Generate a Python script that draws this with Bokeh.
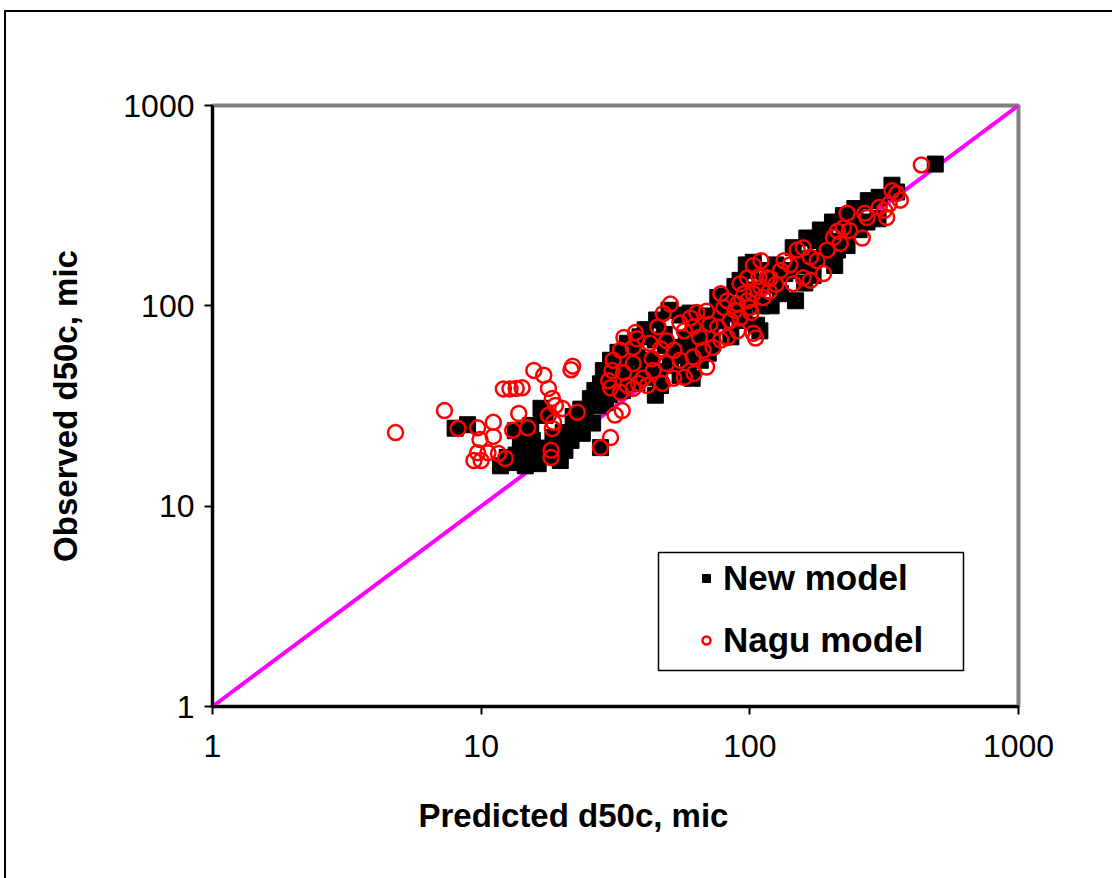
from bokeh.plotting import figure
from bokeh.models import (Legend, LegendItem, FixedTicker, PrintfTickFormatter,
                          BoxAnnotation, Title, InlineStyleSheet)
from bokeh.embed import file_html
from bokeh.resources import INLINE

# ---------------- data ----------------
new_pred = [8.0, 8.9,
            11.8, 13.1, 14.6, 16.3, 14.0, 15.5, 13.4, 15.3, 17.3, 16.7, 17.8, 18.9, 19.7, 21.6, 20.2,
            22.4, 23.8, 24.4, 25.5, 26.5, 27.8, 27.2, 28.5, 30.3, 32.3, 31.5, 34.2, 33.6, 27.8,
            13.5, 15.0, 16.5, 12.5, 14.0, 18.5, 20.5, 22.0, 23.5, 26.0, 29.0, 30.0, 31.0,
            40.8, 44.5, 42.8, 48.5, 50.7, 55.0, 59.0, 61.0, 65.4, 57.5, 46.5, 44.5, 38.0, 36.0, 40.0,
            42.0, 46.0, 52.0, 54.0, 58.0, 62.0, 66.0, 64.0, 48.0, 36.0, 38.0, 45.0, 50.0, 55.0,
            35.0, 39.0, 33.0, 37.0, 60.0, 63.0,
            71.0, 76.5, 81.6, 78.4, 88.0, 92.0, 96.0, 101.0, 103.0, 98.0, 106.0, 109.0, 114.0, 92.0,
            68.0, 72.0, 85.0, 95.0, 100.0, 105.0, 110.0, 88.0, 82.0, 76.0, 70.0,
            124.0, 141.0, 155.0, 168.0, 176.0, 190.0, 145.0, 163.0, 183.0, 203.0, 223.0, 246.0,
            276.0, 303.0, 338.0, 352.0, 300.0, 273.0, 243.0, 212.0, 230.0, 207.0, 172.0, 155.0,
            126.0, 119.0, 148.0, 130.0, 160.0, 190.0, 200.0, 225.0, 255.0, 120.0, 135.0,
            125.0, 118.0, 97.0,
            490.0]
new_obs = [24.5, 25.5,
           15.9, 16.5, 15.9, 16.3, 19.0, 21.3, 23.8, 25.3, 28.4, 30.8, 17.9, 19.6, 16.9, 21.3, 23.3,
           25.3, 23.1, 28.4, 34.4, 37.8, 40.8, 31.7, 47.5, 53.5, 58.6, 45.0, 50.5, 37.8, 19.6,
           18.0, 17.5, 19.5, 17.5, 21.5, 22.0, 19.0, 28.0, 30.5, 26.0, 33.0, 36.0, 40.0,
           76.0, 67.5, 53.5, 63.5, 50.5, 45.0, 46.4, 43.5, 53.5, 56.5, 40.0, 35.8, 41.0, 45.0, 48.0,
           44.0, 47.0, 58.0, 62.0, 68.0, 72.0, 62.0, 80.0, 72.0, 62.0, 55.0, 85.0, 95.0, 90.0,
           65.0, 70.0, 55.0, 58.0, 92.0, 85.0,
           75.0, 95.0, 112.0, 84.5, 100.0, 84.5, 119.0, 150.0, 165.0, 106.0, 80.0, 75.0, 127.0, 134.0,
           89.0, 65.0, 70.0, 95.0, 120.0, 105.0, 100.0, 125.0, 92.0, 110.0, 58.0,
           134.0, 150.0, 159.0, 172.0, 212.0, 232.0, 195.0, 218.0, 239.0, 262.0, 282.0, 306.0,
           335.0, 348.0, 400.0, 370.0, 272.0, 262.0, 258.0, 190.0, 200.0, 159.0, 142.0, 163.0,
           156.0, 131.0, 106.0, 115.0, 130.0, 175.0, 210.0, 230.0, 240.0, 100.0, 145.0,
           160.0, 150.0, 160.0,
           510.0]

nagu_pred = [4.8, 7.3, 8.2, 9.7, 11.1, 9.9, 11.1, 9.4, 10.0, 9.7, 10.6, 11.6, 12.3, 13.8, 13.1, 14.9,
             12.1, 12.8, 13.5, 14.2, 15.7, 17.1, 17.8, 21.9, 21.6, 18.4, 18.9, 17.8, 18.6, 18.4,
             20.1, 22.8, 18.2, 18.2, 27.8, 30.3, 31.5, 33.5, 33.0, 35.0,
             50.6, 47.6, 37.5, 38.0, 33.0, 31.0, 30.7, 29.8, 30.3, 33.9, 36.8, 43.3, 46.5, 49.0,
             55.0, 60.0, 57.0, 63.5, 69.0, 78.0, 82.5, 92.0, 98.0, 103.0, 110.0, 103.0, 105.0,
             69.0, 62.0, 57.0, 52.0, 47.2, 41.5, 38.5, 36.8, 40.0, 43.7, 49.0, 55.0, 61.5, 67.0,
             73.0, 78.0, 82.5, 65.0, 76.0, 84.5, 92.0, 71.0, 61.5, 80.0, 90.0, 98.0, 103.0, 110.0,
             116.0, 101.0, 90.0, 45.5, 52.2, 42.5, 34.0, 36.8,
             119.0, 130.0, 150.0, 158.0, 168.0, 178.0, 188.0, 194.0, 205.0, 212.0, 223.0, 235.0,
             217.0, 262.0, 268.0, 273.0, 303.0, 317.0, 330.0, 352.0, 363.0, 323.0, 338.0, 230.0,
             134.0, 141.0, 168.0, 158.0, 145.0, 108.0, 112.0, 118.0, 125.0, 95.0, 88.0, 100.0,
             435.0]
nagu_obs = [23.3, 30.0, 24.4, 24.6, 26.2, 21.5, 22.3, 16.9, 16.9, 18.5, 18.5, 18.3, 17.3, 29.0, 23.9, 24.6,
            38.5, 38.5, 38.7, 39.0, 47.6, 45.0, 38.7, 50.0, 48.0, 34.5, 31.8, 28.4, 26.2, 24.4,
            30.7, 29.4, 19.0, 17.5, 19.6, 22.0, 28.5, 30.0, 37.0, 40.0,
            102.0, 91.5, 73.5, 68.5, 60.0, 53.5, 47.5, 42.3, 39.0, 46.4, 51.5, 54.5, 61.0, 67.0,
            82.0, 87.0, 75.0, 92.5, 94.0, 115.0, 106.0, 129.0, 138.0, 159.0, 168.0, 73.0, 69.0,
            49.5, 46.0, 44.0, 43.5, 41.0, 40.0, 41.0, 38.7, 43.5, 47.5, 51.5, 53.5, 55.5, 60.0,
            62.0, 67.5, 69.5, 69.5, 78.5, 84.5, 87.0, 81.0, 78.5, 98.0, 102.0, 106.0, 115.0, 123.0,
            138.0, 92.5, 75.0, 78.5, 60.0, 65.0, 69.5, 62.0,
            137.0, 150.0, 190.0, 195.0, 175.0, 168.0, 145.0, 190.0, 220.0, 236.0, 245.0, 238.0,
            205.0, 218.0, 290.0, 276.0, 310.0, 300.0, 322.0, 364.0, 337.0, 276.0, 375.0, 290.0,
            168.0, 160.0, 134.0, 138.0, 129.0, 140.0, 110.0, 118.0, 128.0, 115.0, 95.0, 98.0,
            505.0]

line_x = [1, 1000]
line_y = [1, 1000]
tick_values = [1, 10, 100, 1000]
x_title = "Predicted d50c, mic"
y_title = "Observed d50c, mic"
series_names = ["New model", "Nagu model"]

FONT = "Liberation Sans"

p = figure(x_axis_type="log", y_axis_type="log", x_range=(1, 1000), y_range=(1, 1000),
           frame_width=806, frame_height=601,
           min_border_left=212, min_border_right=94, min_border_top=105, min_border_bottom=172,
           output_backend="svg", toolbar_location=None)
p.background_fill_color = "white"
p.border_fill_color = "white"
p.xgrid.visible = False
p.ygrid.visible = False
p.outline_line_color = "#808080"
p.outline_line_width = 4

p.line(line_x, line_y, line_color="#FF00FF", line_width=4)
sq = p.scatter(new_pred, new_obs, marker="square", size=16, fill_color="black", line_color="black")
ci = p.scatter(nagu_pred, nagu_obs, marker="circle", size=15, fill_color=None,
               line_color="#FF0000", line_width=2.5)

for ax in (p.xaxis[0], p.yaxis[0]):
    ax.ticker = FixedTicker(ticks=tick_values, minor_ticks=[])
    ax.formatter = PrintfTickFormatter(format="%d")
    ax.axis_line_color = "black"
    ax.axis_line_width = 3
    ax.major_tick_line_color = "black"
    ax.major_tick_line_width = 2
    ax.major_tick_out = 8
    ax.major_tick_in = 0
    ax.minor_tick_line_color = None
    ax.major_label_text_font = FONT
    ax.major_label_text_font_size = "32px"
    ax.major_label_text_color = "black"
    ax.axis_label_text_font = FONT
    ax.axis_label_text_font_size = "33px"
    ax.axis_label_text_font_style = "bold"
    ax.axis_label_text_color = "black"

p.yaxis.axis_label = y_title
p.xaxis.major_label_standoff = 20
p.yaxis.major_label_standoff = 10
p.yaxis.axis_label_standoff = 36

xt = Title(text=x_title, align="left", offset=206, standoff=70,
           text_font=FONT, text_font_size="33px", text_font_style="bold", text_color="black")
p.add_layout(xt, "below")

legend = Legend(items=[LegendItem(label=series_names[0], renderers=[sq]),
                       LegendItem(label=series_names[1], renderers=[ci])],
                location=(479, 46), padding=10, glyph_width=30, label_standoff=2,
                spacing=22, label_text_font=FONT, label_text_font_size="35px",
                label_text_font_style="bold", label_text_color="black",
                border_line_color=None, background_fill_alpha=0)
p.add_layout(legend, "center")

legend_box = BoxAnnotation(left=446, right=751, bottom=36, top=154,
                           left_units="screen", right_units="screen",
                           top_units="screen", bottom_units="screen",
                           fill_alpha=0, line_color="black", line_width=1.5, line_alpha=1)
p.add_layout(legend_box)

p.stylesheets = [InlineStyleSheet(css="""
:host { position: relative; overflow: hidden; }
:host::after { content: ''; position: absolute; left: 4px; top: 10px; right: -4px; bottom: -4px;
  border: 2px solid black; pointer-events: none; z-index: 10; }
""")]

open("out.html", "w").write(file_html(p, INLINE))
